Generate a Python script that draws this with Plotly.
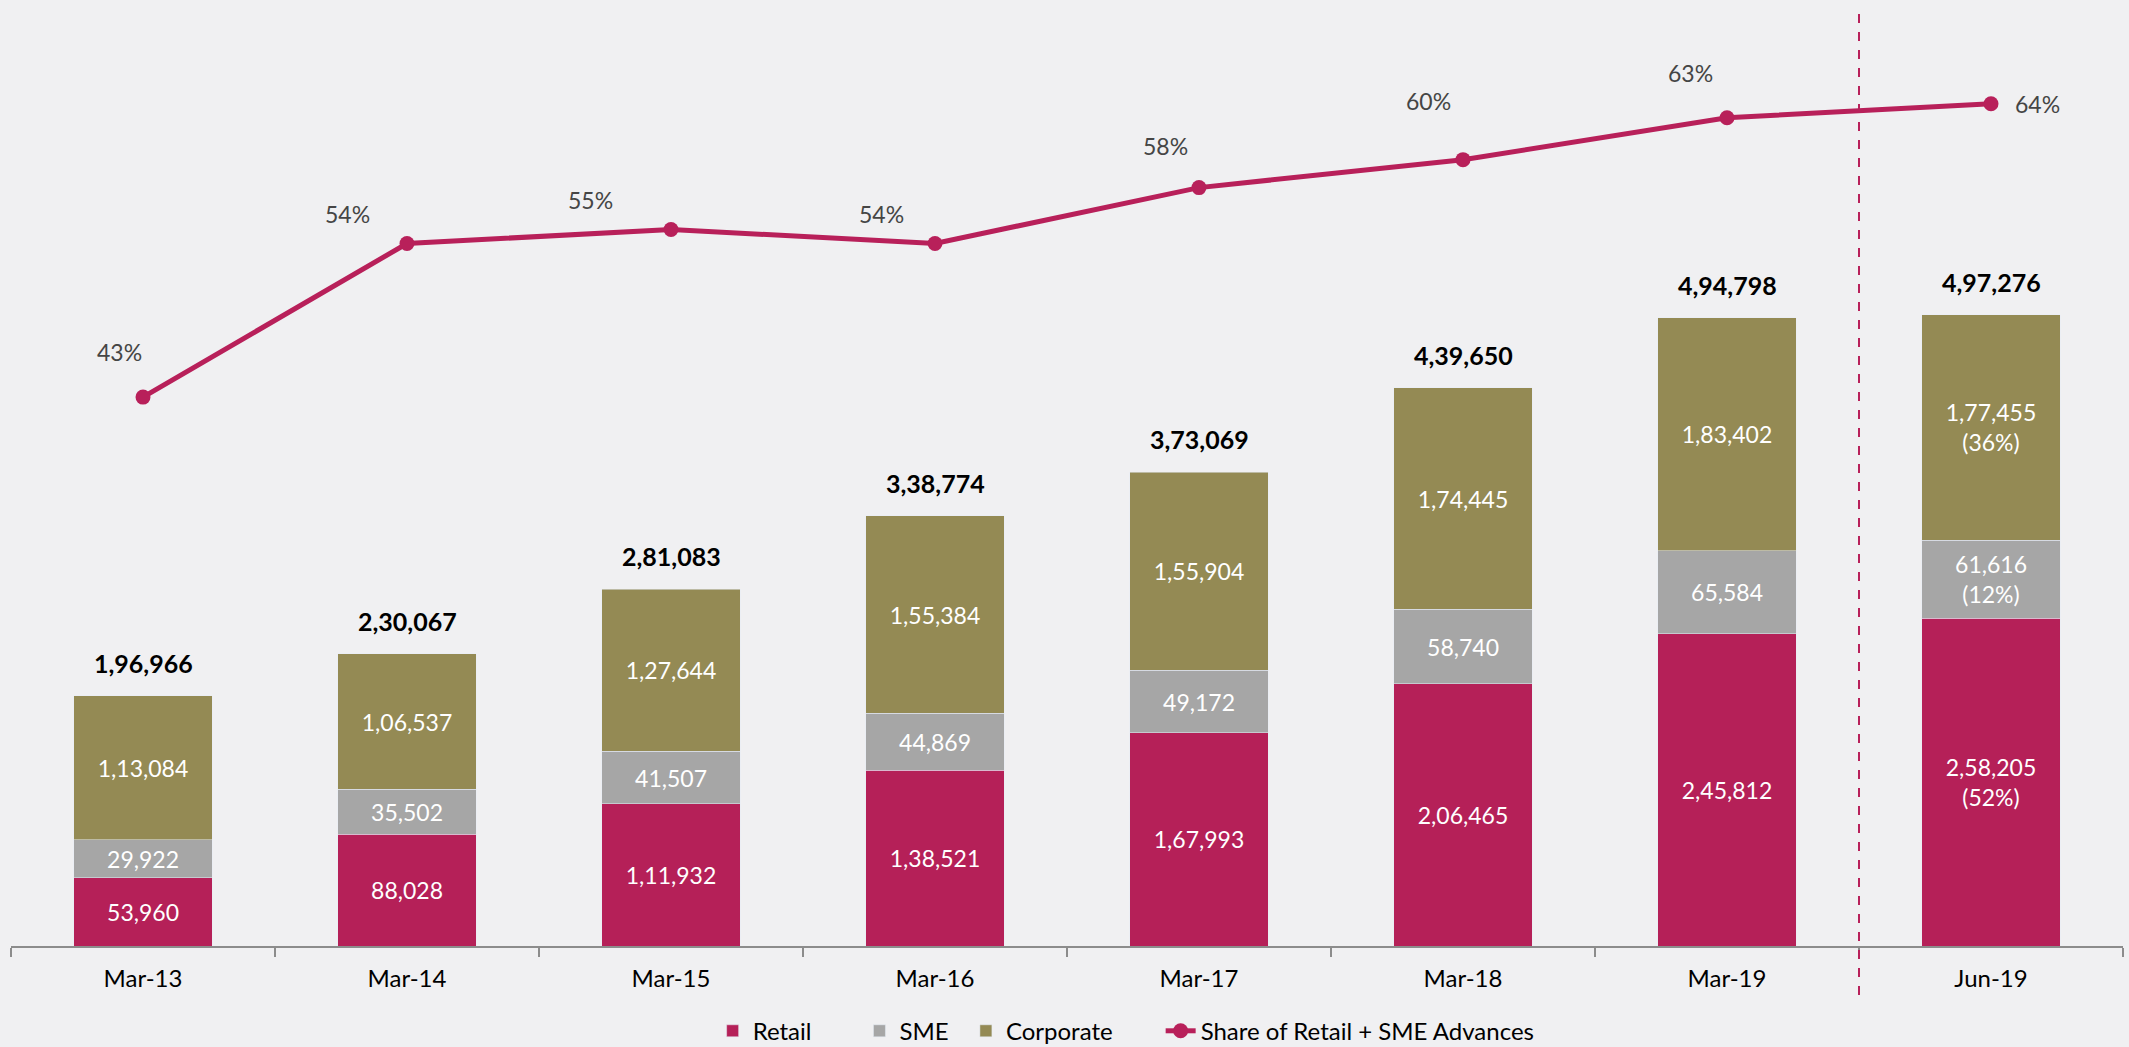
import plotly.graph_objects as go

categories = ["Mar-13", "Mar-14", "Mar-15", "Mar-16", "Mar-17", "Mar-18", "Mar-19", "Jun-19"]
retail = [53960, 88028, 111932, 138521, 167993, 206465, 245812, 258205]
sme = [29922, 35502, 41507, 44869, 49172, 58740, 65584, 61616]
corporate = [113084, 106537, 127644, 155384, 155904, 174445, 183402, 177455]
totals = [196966, 230067, 281083, 338774, 373069, 439650, 494798, 497276]
share = [43, 54, 55, 54, 58, 60, 63, 64]

retail_labels = ["53,960", "88,028", "1,11,932", "1,38,521", "1,67,993", "2,06,465", "2,45,812", "2,58,205<br>(52%)"]
sme_labels = ["29,922", "35,502", "41,507", "44,869", "49,172", "58,740", "65,584", "61,616<br>(12%)"]
corp_labels = ["1,13,084", "1,06,537", "1,27,644", "1,55,384", "1,55,904", "1,74,445", "1,83,402", "1,77,455<br>(36%)"]
total_labels = ["1,96,966", "2,30,067", "2,81,083", "3,38,774", "3,73,069", "4,39,650", "4,94,798", "4,97,276"]
share_labels = ["43%", "54%", "55%", "54%", "58%", "60%", "63%", "64%"]

# label offsets (pixels) for line labels
share_dx = [-24, -60, -81, -54, -34, -35, -37, 46]
share_dy = [45, 29, 30, 29, 42, 59, 45, 0]

FONT = "Lato"
C_RETAIL = "#B52058"
C_SME = "#A6A6A6"
C_CORP = "#948A54"
C_LINE = "#B8205A"
BG = "#F0F0F2"
PAD = "\u00a0"

fig = go.Figure()
inside_font = dict(family=FONT, size=23, color="white")
fig.add_trace(go.Bar(x=categories, y=retail, name="Retail" + PAD * 7, marker_color=C_RETAIL,
                     text=retail_labels, textposition="inside", insidetextanchor="middle",
                     textfont=inside_font, hoverinfo="y"))
fig.add_trace(go.Bar(x=categories, y=sme, name="SME" + PAD * 2, marker_color=C_SME,
                     text=sme_labels, textposition="inside", insidetextanchor="middle",
                     textfont=inside_font, hoverinfo="y"))
fig.add_trace(go.Bar(x=categories, y=corporate, name="Corporate" + PAD * 7, marker_color=C_CORP,
                     text=corp_labels, textposition="inside", insidetextanchor="middle",
                     textfont=inside_font, hoverinfo="y"))
fig.add_trace(go.Scatter(x=categories, y=share, name="Share of Retail + SME Advances",
                         mode="lines+markers", yaxis="y2",
                         line=dict(color=C_LINE, width=5),
                         marker=dict(color=C_LINE, size=15)))

annotations = []
for c, t, lab in zip(categories, totals, total_labels):
    annotations.append(dict(x=c, y=t, xref="x", yref="y", text="<b>" + lab + "</b>",
                            showarrow=False, yanchor="bottom", yshift=16,
                            font=dict(family=FONT, size=25, color="black")))
for c, s, lab, dx, dy in zip(categories, share, share_labels, share_dx, share_dy):
    annotations.append(dict(x=c, y=s, xref="x", yref="y2", text=lab, showarrow=False,
                            xshift=dx, yshift=dy,
                            font=dict(family=FONT, size=23, color="#454545")))

fig.update_layout(
    width=2129, height=1047,
    margin=dict(l=11, r=6, t=20, b=101, autoexpand=False),
    paper_bgcolor=BG, plot_bgcolor=BG,
    barmode="stack", bargap=0.477,
    font=dict(family=FONT, color="black"),
    xaxis=dict(showline=True, linecolor="#8C8C8C", linewidth=2, ticks="outside",
               tickson="boundaries", ticklen=9, tickcolor="#8C8C8C", tickwidth=2,
               showgrid=False, tickfont=dict(family=FONT, size=24, color="black"),
               ticklabelstandoff=10,
               fixedrange=True, automargin=False),
    yaxis=dict(range=[0, 729500], visible=False, showgrid=False, fixedrange=True),
    yaxis2=dict(range=[3.7, 70], overlaying="y", visible=False, showgrid=False, fixedrange=True),
    legend=dict(orientation="h", x=0.528, xanchor="center", y=-0.092, yanchor="middle",
                font=dict(family=FONT, size=24, color="black"), bgcolor="rgba(0,0,0,0)",
                traceorder="normal"),
    annotations=annotations,
    shapes=[dict(type="line", xref="x", yref="paper", x0=6.5, x1=6.5, y0=-0.053, y1=1.013,
                 line=dict(color=C_LINE, width=2, dash="dash"))],
    showlegend=True,
)

fig.write_html(
    "out.html",
    config={"displayModeBar": False},
    post_script="document.body.style.margin='0';document.body.style.background='%s';"
                "document.body.style.overflow='hidden';" % BG,
)
